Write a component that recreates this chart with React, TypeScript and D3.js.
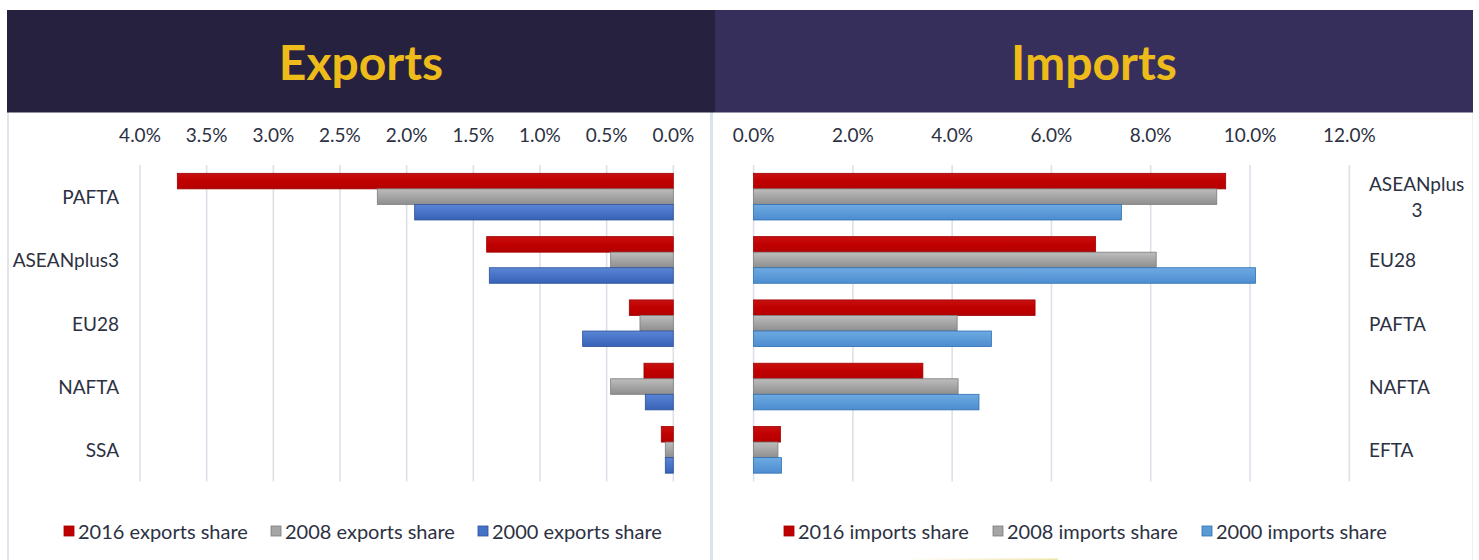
import React from "react";
import * as d3 from "d3";

const exportCategories = ["PAFTA", "ASEANplus3", "EU28", "NAFTA", "SSA"];
const exports2016 = [3.72, 1.4, 0.33, 0.22, 0.09];
const exports2008 = [2.22, 0.47, 0.25, 0.47, 0.06];
const exports2000 = [1.94, 1.38, 0.68, 0.21, 0.06];
const exportTicks = [4.0, 3.5, 3.0, 2.5, 2.0, 1.5, 1.0, 0.5, 0.0];

const importCategories = ["ASEANplus3", "EU28", "PAFTA", "NAFTA", "EFTA"];
const imports2016 = [9.51, 6.89, 5.67, 3.41, 0.54];
const imports2008 = [9.33, 8.11, 4.1, 4.12, 0.49];
const imports2000 = [7.41, 10.11, 4.79, 4.54, 0.56];
const importTicks = [0, 2, 4, 6, 8, 10, 12];

const exportSeriesNames = ["2016 exports share", "2008 exports share", "2000 exports share"];
const importSeriesNames = ["2016 imports share", "2008 imports share", "2000 imports share"];

const W = 1479;
const H = 560;
const FONT = "Lato, 'Open Sans', sans-serif";
const TEXT = "#2c3142";
const GRID = "#dce0e8";

const fmt = (v: number) => v.toFixed(1) + "%";

function Gradients() {
  return (
    <defs>
      <linearGradient id="gRed" x1="0" y1="0" x2="0" y2="1">
        <stop offset="0" stopColor="#c81010" />
        <stop offset="0.5" stopColor="#c00000" />
        <stop offset="1" stopColor="#b40000" />
      </linearGradient>
      <linearGradient id="gGray" x1="0" y1="0" x2="0" y2="1">
        <stop offset="0" stopColor="#bdbdbd" />
        <stop offset="1" stopColor="#8e8e8e" />
      </linearGradient>
      <linearGradient id="gBlueL" x1="0" y1="0" x2="0" y2="1">
        <stop offset="0" stopColor="#5b86d6" />
        <stop offset="1" stopColor="#3661b6" />
      </linearGradient>
      <linearGradient id="gBlueR" x1="0" y1="0" x2="0" y2="1">
        <stop offset="0" stopColor="#6eaae2" />
        <stop offset="1" stopColor="#4c8dd0" />
      </linearGradient>
      <linearGradient id="gFaint" x1="0" y1="0" x2="1" y2="0">
        <stop offset="0" stopColor="#ffffff" />
        <stop offset="1" stopColor="#f1e3a8" />
      </linearGradient>
    </defs>
  );
}

const exportFills = ["url(#gRed)", "url(#gGray)", "url(#gBlueL)"];
const exportStrokes = ["#9e0000", "#7c7c7c", "#2c5199"];
const importFills = ["url(#gRed)", "url(#gGray)", "url(#gBlueR)"];
const importStrokes = ["#9e0000", "#7c7c7c", "#2f6fb0"];
const legendExportFills = ["#c00000", "#a5a5a5", "#4472c4"];
const legendImportFills = ["#c00000", "#a5a5a5", "#5b9bd5"];

const plotTop = 165;
const plotBottom = 481.5;

function Legend({ names, fills, strokes, x0, step }: { names: string[]; fills: string[]; strokes: string[]; x0: number; step: number }) {
  const cy = 531;
  return (
    <g>
      {names.map((n, i) => (
        <g key={n} transform={`translate(${x0 + i * step},0)`}>
          <rect x={0} y={cy - 5} width={10} height={10} fill={fills[i]} stroke={strokes[i]} strokeWidth={0.8} />
          <text x={14} y={cy} dominantBaseline="central" fontFamily={FONT} fontSize={20} fill={TEXT}>
            {n}
          </text>
        </g>
      ))}
    </g>
  );
}

function ExportsPanel() {
  const x = d3.scaleLinear().domain([4, 0]).range([140, 673.3]);
  const y = d3.scaleBand<string>().domain(exportCategories).range([plotTop, plotBottom]);
  const inner = d3.scaleBand<number>().domain([0, 1, 2]).range([0, y.bandwidth()]).paddingOuter(0.535);
  const series = [exports2016, exports2008, exports2000];
  return (
    <g>
      {exportTicks.map((t) => (
        <g key={t}>
          <line x1={x(t)} x2={x(t)} y1={plotTop} y2={plotBottom} stroke={GRID} strokeWidth={1.6} />
          <text x={x(t)} y={134} textAnchor="middle" dominantBaseline="central" fontFamily={FONT} fontSize={19} fill={TEXT}>
            {fmt(t)}
          </text>
        </g>
      ))}
      {series.map((vals, si) =>
        vals.map((v, ci) => {
          const cat = exportCategories[ci];
          const y0 = (y(cat) as number) + (inner(si) as number);
          return (
            <rect
              key={`${si}-${ci}`}
              x={x(v)}
              y={y0}
              width={x(0) - x(v)}
              height={inner.bandwidth()}
              fill={exportFills[si]}
              stroke={exportStrokes[si]}
              strokeWidth={0.8}
            />
          );
        })
      )}
      {exportCategories.map((c) => (
        <text
          key={c}
          x={119}
          y={(y(c) as number) + y.bandwidth() / 2}
          textAnchor="end"
          dominantBaseline="central"
          fontFamily={FONT}
          fontSize={19}
          fill={TEXT}
        >
          {c}
        </text>
      ))}
      <Legend names={exportSeriesNames} fills={legendExportFills} strokes={exportStrokes} x0={64} step={207} />
    </g>
  );
}

function ImportsPanel() {
  const x = d3.scaleLinear().domain([0, 12]).range([753.6, 1349.3]);
  const y = d3.scaleBand<string>().domain(importCategories).range([plotTop, plotBottom]);
  const inner = d3.scaleBand<number>().domain([0, 1, 2]).range([0, y.bandwidth()]).paddingOuter(0.535);
  const series = [imports2016, imports2008, imports2000];
  return (
    <g>
      {importTicks.map((t) => (
        <g key={t}>
          <line x1={x(t)} x2={x(t)} y1={plotTop} y2={plotBottom} stroke={GRID} strokeWidth={1.6} />
          <text x={x(t)} y={134} textAnchor="middle" dominantBaseline="central" fontFamily={FONT} fontSize={19} fill={TEXT}>
            {fmt(t)}
          </text>
        </g>
      ))}
      {series.map((vals, si) =>
        vals.map((v, ci) => {
          const cat = importCategories[ci];
          const y0 = (y(cat) as number) + (inner(si) as number);
          return (
            <rect
              key={`${si}-${ci}`}
              x={x(0)}
              y={y0}
              width={x(v) - x(0)}
              height={inner.bandwidth()}
              fill={importFills[si]}
              stroke={importStrokes[si]}
              strokeWidth={0.8}
            />
          );
        })
      )}
      {importCategories.map((c) => {
        const cy = (y(c) as number) + y.bandwidth() / 2;
        if (c.length > 9) {
          const a = c.slice(0, 9);
          const b = c.slice(9);
          return (
            <g key={c}>
              <text x={1369} y={cy - 13} dominantBaseline="central" fontFamily={FONT} fontSize={19} fill={TEXT}>
                {a}
              </text>
              <text x={1417} y={cy + 13} textAnchor="middle" dominantBaseline="central" fontFamily={FONT} fontSize={19} fill={TEXT}>
                {b}
              </text>
            </g>
          );
        }
        return (
          <text key={c} x={1369} y={cy} dominantBaseline="central" fontFamily={FONT} fontSize={19} fill={TEXT}>
            {c}
          </text>
        );
      })}
      <Legend names={importSeriesNames} fills={legendImportFills} strokes={importStrokes} x0={784} step={209} />
    </g>
  );
}

export default function App() {
  return (
    <svg
      width={W}
      height={H}
      viewBox={`0 0 ${W} ${H}`}
      style={{ position: "absolute", left: 0, top: 0, display: "block", background: "#ffffff" }}
    >
      <Gradients />
      <rect x={0} y={0} width={W} height={H} fill="#ffffff" />
      <rect x={7} y={110} width={2} height={H - 110} fill="#e0e3ea" />
      <rect x={710} y={110} width={3} height={H - 110} fill="#dde1e9" />
      <rect x={1472} y={110} width={1} height={H - 110} fill="#eef0f4" />
      <rect x={7} y={10} width={708} height={102.5} fill="#26213f" />
      <rect x={715} y={10} width={758} height={102.5} fill="#372f5b" />
      <text x={361} y={80} textAnchor="middle" fontFamily={FONT} fontWeight={700} fontSize={48} fill="#eebc1a">
        Exports
      </text>
      <text x={1094} y={80} textAnchor="middle" fontFamily={FONT} fontWeight={700} fontSize={48} fill="#eebc1a">
        Imports
      </text>
      <ExportsPanel />
      <ImportsPanel />
      <rect x={900} y={558.5} width={158} height={1.5} fill="url(#gFaint)" />
    </svg>
  );
}
